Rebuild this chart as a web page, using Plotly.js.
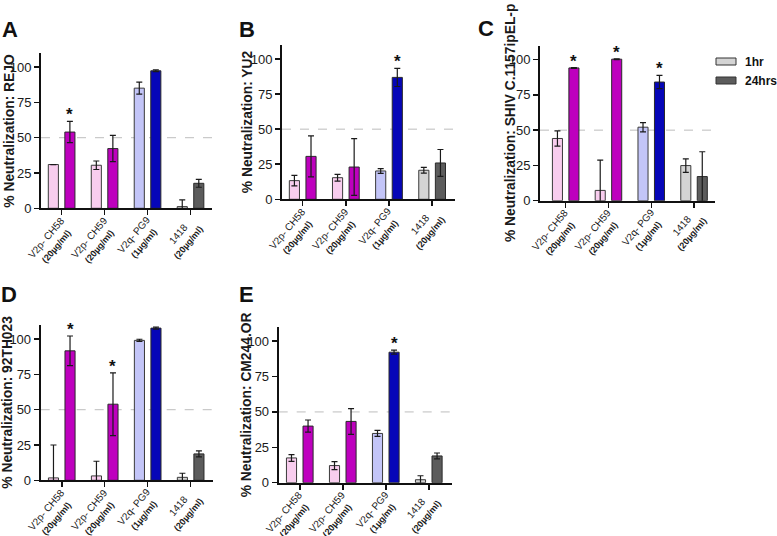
<!DOCTYPE html>
<html><head><meta charset="utf-8">
<script src="https://cdn.plot.ly/plotly-3.0.1.min.js"></script>
<style>html,body{margin:0;padding:0;background:#fff}#chart{width:777px;height:536px}</style>
</head><body><div id="chart"></div>
<script>
// ---- data ----
const categories = ['V2p- CH58', 'V2p- CH59', 'V2q- PG9', '1418'];
const concentrations = ['(20µg/ml)', '(20µg/ml)', '(1µg/ml)', '(20µg/ml)'];
const seriesNames = ['1hr', '24hrs'];

const titleA = '% Neutralization: REJO';
const A_1hr = [31, 30.5, 85.1, 1.2];
const A_1hr_err = [0, 3, 4.2, 4.7];
const A_24hrs = [54, 42.3, 97.4, 17.7];
const A_24hrs_err = [7.5, 9.3, 0.6, 2.8];
const A_sig = [1, 0, 0, 0];

const titleB = '% Neutralization: YU2';
const B_1hr = [13.3, 15.4, 20.2, 20.7];
const B_1hr_err = [3.7, 2.4, 1.7, 2];
const B_24hrs = [30.6, 23, 86.9, 25.9];
const B_24hrs_err = [14.6, 20.2, 6.5, 9.6];
const B_sig = [0, 0, 1, 0];

const titleC = '% Neutralization: SHIV C.1157ipEL-p';
const C_1hr = [44.1, 7.3, 52.1, 24.9];
const C_1hr_err = [5.4, 21.4, 3.3, 4.8];
const C_24hrs = [94.1, 100.3, 84.1, 17.1];
const C_24hrs_err = [0.3, 0.3, 4.7, 17.6];
const C_sig = [1, 1, 1, 0];

const titleD = '% Neutralization: 92TH023';
const D_1hr = [1.7, 3.1, 99.1, 2.1];
const D_1hr_err = [23.3, 10.4, 0.8, 2.9];
const D_24hrs = [91.7, 53.9, 107.8, 18.7];
const D_24hrs_err = [10.5, 22.2, 0.7, 2.1];
const D_sig = [1, 1, 0, 0];

const titleE = '% Neutralization: CM244.OR';
const E_1hr = [17.5, 12.1, 34.8, 2.1];
const E_1hr_err = [2.4, 2.8, 2.1, 2.8];
const E_24hrs = [40, 43.3, 92.2, 18.9];
const E_24hrs_err = [4.3, 9.1, 1.4, 2.1];
const E_sig = [0, 0, 1, 0];

const yTicks = [0, 25, 50, 75, 100];
const thresholdValue = 50;

// ---- styling / layout (not data) ----
const W = 777, H = 536;
const col1hr = ['#F8CDEE', '#F8CDEE', '#C3C5F8', '#D4D4D4'];
const col24 = ['#BE00BE', '#BE00BE', '#0606B8', '#5C5C5C'];
const FONT = '"Liberation Sans", Arial, sans-serif';

// pixel boxes: [left, right, top, bottom], x range, title x center, letter pos
const panels = [
  {L:'A', title:titleA, h1:A_1hr, e1:A_1hr_err, h2:A_24hrs, e2:A_24hrs_err, sig:A_sig,
   box:[41,212,53,208.3], xr:[-0.48,3.5], tx:10, letter:[10,30]},
  {L:'B', title:titleB, h1:B_1hr, e1:B_1hr_err, h2:B_24hrs, e2:B_24hrs_err, sig:B_sig,
   box:[282,455,45,199.3], xr:[-0.48,3.53], tx:247, letter:[247,30]},
  {L:'C', title:titleC, h1:C_1hr, e1:C_1hr_err, h2:C_24hrs, e2:C_24hrs_err, sig:C_sig,
   box:[540,715,45.5,200.7], xr:[-0.6,3.49], tx:510, letter:[486,29]},
  {L:'D', title:titleD, h1:D_1hr, e1:D_1hr_err, h2:D_24hrs, e2:D_24hrs_err, sig:D_sig,
   box:[40.7,213,325,480.3], xr:[-0.49,3.52], tx:8, letter:[9,294]},
  {L:'E', title:titleE, h1:E_1hr, e1:E_1hr_err, h2:E_24hrs, e2:E_24hrs_err, sig:E_sig,
   box:[278.7,452,327,482.7], xr:[-0.49,3.54], tx:246.5, letter:[246.5,294]}
];

const xs = categories.map((c, i) => i);
const tickText = categories.map((c, i) =>
  c + '<br><b><span style="font-size:9px">' + concentrations[i] + '</span></b>');

const BW = 0.235, OFF1 = -0.31, OFF2 = 0.075;
const data = [], shapes = [], annotations = [];
const layout = {
  width: W, height: H, margin: {l:0, r:0, t:0, b:0},
  paper_bgcolor: '#fff', plot_bgcolor: 'rgba(0,0,0,0)',
  showlegend: false, barmode: 'overlay',
  font: {family: FONT, color: '#1a1a1a'}
};

panels.forEach((p, k) => {
  const n = k === 0 ? '' : String(k + 1);
  const xa = 'x' + n, ya = 'y' + n;
  const [l, r, t, b] = p.box;
  const errStyle = {type:'data', symmetric:true, color:'#1a1a1a', thickness:1.2, width:3};
  data.push({
    type:'bar', name: seriesNames[0], x: xs, y: p.h1, xaxis: xa, yaxis: ya,
    width: BW, offset: OFF1,
    marker: {color: col1hr, line: {color:'#3a3a3a', width:1}},
    error_y: Object.assign({array: p.e1}, errStyle), hoverinfo:'y'
  });
  data.push({
    type:'bar', name: seriesNames[1], x: xs, y: p.h2, xaxis: xa, yaxis: ya,
    width: BW, offset: OFF2,
    marker: {color: col24, line: {color:'#2a2a2a', width:1}},
    error_y: Object.assign({array: p.e2}, errStyle), hoverinfo:'y'
  });
  layout['xaxis' + n] = {
    domain: [l / W, r / W], range: p.xr, anchor: ya,
    showgrid:false, zeroline:false, showline:true, linecolor:'#111', linewidth:2,
    ticks:'outside', ticklen:5, tickwidth:1.5, tickcolor:'#111',
    tickvals: xs, showticklabels:false, fixedrange:true
  };
  layout['yaxis' + n] = {
    domain: [(H - b) / H, (H - t) / H], range: [0, 110], anchor: xa,
    showgrid:false, zeroline:false, showline:true, linecolor:'#111', linewidth:2,
    ticks:'outside', ticklen:5, tickwidth:1.5, tickcolor:'#111',
    tickvals: yTicks, tickfont: {family: FONT, size: 13, color:'#1a1a1a'}, fixedrange:true
  };
  shapes.push({type:'line', xref: xa + ' domain', yref: ya, x0:0, x1:1, y0:thresholdValue, y1:thresholdValue,
    line:{color:'#bdbdbd', width:1, dash:'dash'}, layer:'below'});
  // category labels, rotated, under each tick
  xs.forEach(i => {
    annotations.push({xref: xa, yref:'paper', x: i, y: 1 - (b + 5) / H,
      xanchor:'right', yanchor:'top', xshift: 16, textangle:-50, showarrow:false, align:'center',
      borderpad:0, text: tickText[i], font:{family: FONT, size:10, color:'#1a1a1a'}});
  });
  // axis title
  annotations.push({xref:'paper', yref:'paper', x: p.tx / W, y: 1 - ((t + b) / 2) / H,
    xanchor:'center', yanchor:'middle', textangle:-90, showarrow:false,
    text: '<b>' + p.title + '</b>', font:{family: FONT, size:13.8, color:'#1a1a1a'}});
  // panel letter
  annotations.push({xref:'paper', yref:'paper', x: p.letter[0] / W, y: 1 - p.letter[1] / H,
    xanchor:'center', yanchor:'middle', showarrow:false,
    text: '<b>' + p.L + '</b>', font:{family: FONT, size:22, color:'#111'}});
  // significance stars
  p.sig.forEach((s, i) => {
    if (s) annotations.push({xref: xa, yref: ya, x: i + OFF2 + BW / 2, y: p.h2[i] + p.e2[i],
      xanchor:'center', yanchor:'bottom', yshift:-5, showarrow:false, text:'<b>*</b>',
      font:{family: FONT, size:17, color:'#111'}});
  });
});

// legend (drawn with shapes + text)
const legendItems = [{name: seriesNames[0], color:'#D4D4D4', y:61.5}, {name: seriesNames[1], color:'#5C5C5C', y:80.5}];
legendItems.forEach(it => {
  shapes.push({type:'rect', xref:'paper', yref:'paper', x0:716/W, x1:736/W,
    y0: 1 - (it.y + 3.5) / H, y1: 1 - (it.y - 3.5) / H, fillcolor: it.color, line:{color:'#333', width:1}});
  annotations.push({xref:'paper', yref:'paper', x:743/W, y: 1 - it.y / H, xanchor:'left', yanchor:'middle',
    showarrow:false, text:'<b>' + it.name + '</b>', font:{family: FONT, size:12, color:'#111'}});
});

layout.shapes = shapes;
layout.annotations = annotations;
Plotly.newPlot('chart', data, layout, {staticPlot:true, displayModeBar:false});
</script>
</body></html>
